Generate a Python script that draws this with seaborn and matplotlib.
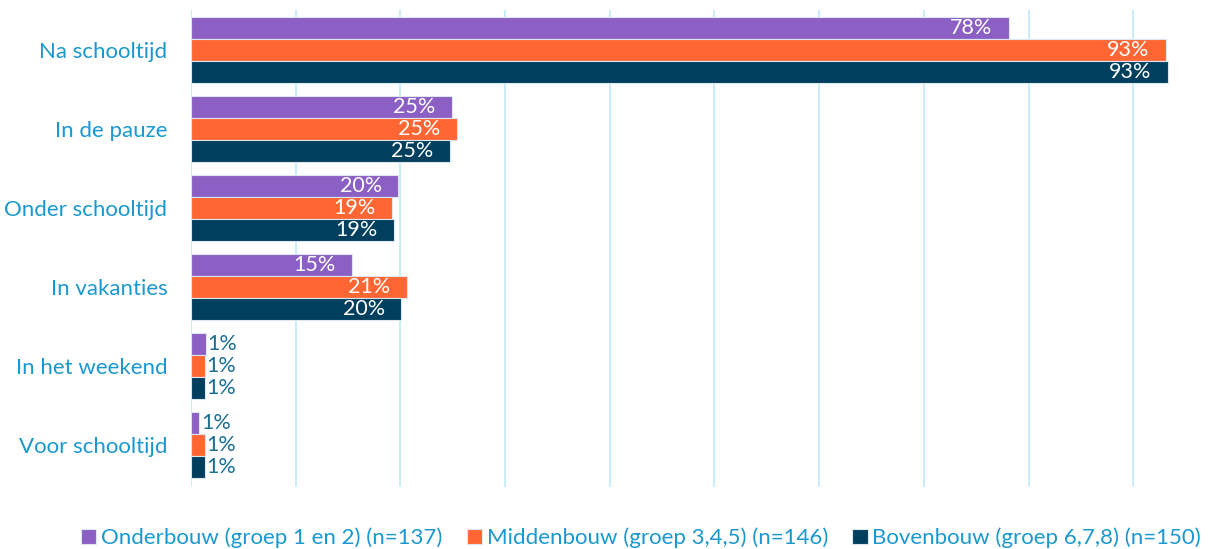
import matplotlib
matplotlib.use("Agg")
import matplotlib.pyplot as plt
import seaborn as sns
import pandas as pd

# ── data ──────────────────────────────────────────────────────────────
CATEGORIES = ["Na schooltijd", "In de pauze", "Onder schooltijd",
              "In vakanties", "In het weekend", "Voor schooltijd"]
SERIES = ["Onderbouw (groep 1 en 2) (n=137)",
          "Middenbouw (groep 3,4,5) (n=146)",
          "Bovenbouw (groep 6,7,8) (n=150)"]
ONDERBOUW = [78.1, 24.9, 19.8, 15.4, 1.4, 0.8]
MIDDENBOUW = [93.1, 25.4, 19.2, 20.6, 1.3, 1.3]
BOVENBOUW = [93.3, 24.7, 19.4, 20.1, 1.3, 1.3]

PALETTE = ["#8B5FC4", "#FF6633", "#003F5E"]
BLUE_TXT = "#1A98CF"
LABEL_OUT = "#1C6F92"

rows = []
for name, vals in zip(SERIES, [ONDERBOUW, MIDDENBOUW, BOVENBOUW]):
    for cat, v in zip(CATEGORIES, vals):
        rows.append({"categorie": cat, "groep": name, "pct": v})
df = pd.DataFrame(rows)

sns.set_theme(style="white")
plt.rcParams["font.family"] = ["Lato", "DejaVu Sans"]

fig = plt.figure(figsize=(12.28, 5.49), dpi=100)
ax = fig.add_axes([191 / 1228, 1 - 487 / 549, 1 - 191 / 1228, (487 - 10) / 549])

sns.barplot(data=df, y="categorie", x="pct", hue="groep", order=CATEGORIES,
            hue_order=SERIES, palette=PALETTE, width=0.835, orient="h",
            edgecolor="#DDE6EE", linewidth=0.8, saturation=1, ax=ax,
            legend=True)

ax.set_xlim(0, 99.05)
ax.set_ylim(5.53, -0.506)
ax.set_xticks(range(0, 100, 10))
ax.set_xticklabels([])
ax.grid(axis="x", color="#BFE9F8", linewidth=1.2)
ax.set_axisbelow(True)
for s in ax.spines.values():
    s.set_visible(False)
ax.set_xlabel("")
ax.set_ylabel("")
ax.tick_params(axis="y", length=0, pad=17, labelsize=16, labelcolor=BLUE_TXT)
ax.tick_params(axis="x", length=0)

# waardelabels
for container in ax.containers:
    for bar in container:
        w = bar.get_width()
        yc = bar.get_y() + bar.get_height() / 2
        txt = f"{w:.0f}%"
        if w > 5:
            ax.annotate(txt, (w, yc), xytext=(-12, 0), textcoords="offset points",
                        ha="right", va="center", color="white", fontsize=15.5)
        else:
            ax.annotate(txt, (w, yc), xytext=(1.5, 0), textcoords="offset points",
                        ha="left", va="center", color=LABEL_OUT, fontsize=15.5)

handles, labels = ax.get_legend_handles_labels()
ax.get_legend().remove()
fig.legend(handles, labels, loc="center", bbox_to_anchor=(0.522, 1 - 538 / 549),
           ncol=3, frameon=False, fontsize=16, handlelength=0.7,
           handleheight=0.7, handletextpad=0.2, columnspacing=1.1,
           labelcolor=BLUE_TXT)

fig.savefig("out.png", dpi=100)
